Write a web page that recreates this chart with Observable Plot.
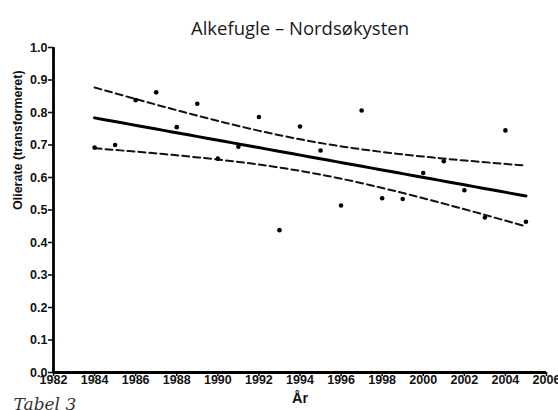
<!DOCTYPE html>
<html><head><meta charset="utf-8">
<script src="https://cdn.jsdelivr.net/npm/d3@7"></script>
<script src="https://cdn.jsdelivr.net/npm/@observablehq/plot@0.6"></script>
<style>
body{margin:0;background:#fff;}
#chart{position:relative;width:558px;height:410px;overflow:hidden;}
#chart svg g[aria-label$="tick label"]{font-size:12.5px;font-weight:bold;}
</style>
</head><body><div id="chart"></div>
<script>
const titleText = "Alkefugle – Nordsøkysten";
const yLabel = "Olierate (transformeret)";
const xLabel = "År";
const caption = "Tabel 3";
const years = [1984,1985,1986,1987,1988,1989,1990,1991,1992,1993,1994,1995,1996,1997,1998,1999,2000,2001,2002,2003,2004,2005];
const rates = [0.692,0.700,0.838,0.862,0.755,0.827,0.658,0.695,0.786,0.438,0.757,0.683,0.514,0.806,0.536,0.534,0.614,0.650,0.561,0.477,0.745,0.464];
const xTicks = [1982,1984,1986,1988,1990,1992,1994,1996,1998,2000,2002,2004,2006];
const yTicks = [0,0.1,0.2,0.3,0.4,0.5,0.6,0.7,0.8,0.9,1.0];
const tCrit = 2.086; // 95%, df = 20

// linear regression with 95% confidence band, computed from the data
const n = years.length;
const mx = d3.mean(years), my = d3.mean(rates);
const sxx = d3.sum(years, x => (x - mx) ** 2);
const sxy = d3.sum(years, (x, i) => (x - mx) * (rates[i] - my));
const slope = sxy / sxx, icpt = my - slope * mx;
const sse = d3.sum(years, (x, i) => (rates[i] - (icpt + slope * x)) ** 2);
const s = Math.sqrt(sse / (n - 2));
const x0 = d3.min(years), x1 = d3.max(years);
const grid = d3.range(0, 51).map(k => x0 + (x1 - x0) * k / 50);
const fit = grid.map(x => {
  const yh = icpt + slope * x;
  const h = tCrit * s * Math.sqrt(1 / n + (x - mx) ** 2 / sxx);
  return {x, y: yh, lo: yh - h, hi: yh + h};
});
const pts = years.map((x, i) => ({x, y: rates[i]}));

const axisFont = "'Liberation Sans', Arial, sans-serif";
const chart = Plot.plot({
  width: 558, height: 410,
  marginLeft: 53, marginRight: 12, marginTop: 47, marginBottom: 38,
  style: {fontFamily: axisFont, fontSize: "12px", fontWeight: "bold", color: "#111", background: "#fff", overflow: "visible"},
  x: {domain: [1982, 2006], label: null},
  y: {domain: [0, 1], label: null},
  marks: [
    Plot.axisX({ticks: xTicks, tickSize: 4, tickPadding: -1, tickFormat: d => String(d), label: null, strokeWidth: 1.6}),
    Plot.axisY({ticks: yTicks, tickSize: 5, tickPadding: 1, tickFormat: d => d.toFixed(1), label: null, strokeWidth: 1.6}),
    Plot.ruleY([0], {stroke: "#000", strokeWidth: 2.8}),
    Plot.ruleX([1982], {stroke: "#000", strokeWidth: 2.8}),
    Plot.line(fit, {x: "x", y: "hi", stroke: "#111", strokeWidth: 2, strokeDasharray: "7,4"}),
    Plot.line(fit, {x: "x", y: "lo", stroke: "#111", strokeWidth: 2, strokeDasharray: "7,4"}),
    Plot.line(fit, {x: "x", y: "y", stroke: "#000", strokeWidth: 3}),
    Plot.dot(pts, {x: "x", y: "y", r: 2.3, fill: "#000", stroke: "none"}),
    Plot.text([titleText], {frameAnchor: "top", dy: -26, fontSize: 18.5, fontWeight: 500, fontFamily: "'Open Sans', sans-serif", fill: "#1a1a1a"}),
    Plot.text([yLabel], {frameAnchor: "left", dx: -36, rotate: -90, fontSize: 12.5, fontWeight: "bold", fontFamily: axisFont, fill: "#111"}),
    Plot.text([xLabel], {frameAnchor: "bottom", dy: 30, fontSize: 14.5, fontWeight: "bold", fontFamily: axisFont, fill: "#111"}),
    Plot.text([caption], {frameAnchor: "bottom-left", dx: -40, dy: 37, textAnchor: "start", fontSize: 17, fontStyle: "italic", fontWeight: "normal", fontFamily: "'DejaVu Serif', 'Liberation Serif', serif", fill: "#333"})
  ]
});
document.getElementById("chart").appendChild(chart);
</script>
</body></html>
